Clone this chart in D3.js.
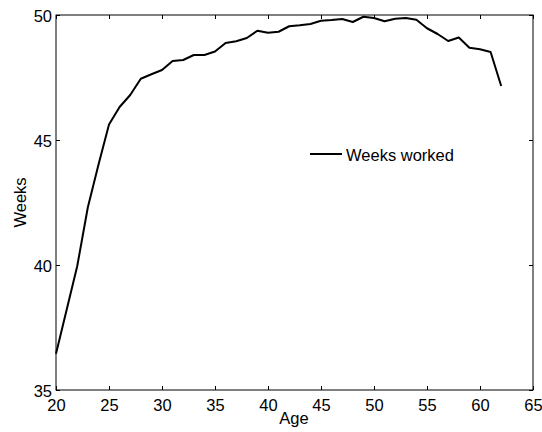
<!DOCTYPE html>
<html><head><meta charset="utf-8">
<script src="https://cdn.jsdelivr.net/npm/d3@7"></script>
<style>body{margin:0;background:#fff}svg{display:block}text{font-family:"Liberation Sans",Arial,sans-serif;fill:#000}</style>
</head><body><svg id="c" width="542" height="432"></svg>
<script>
const ages = [20,21,22,23,24,25,26,27,28,29,30,31,32,33,34,35,36,37,38,39,40,41,42,43,44,45,46,47,48,49,50,51,52,53,54,55,56,57,58,59,60,61,62];
const weeks = [36.45,38.2,39.95,42.3,44.0,45.62,46.32,46.8,47.45,47.63,47.8,48.16,48.2,48.4,48.4,48.54,48.88,48.95,49.08,49.37,49.29,49.33,49.55,49.59,49.64,49.77,49.8,49.84,49.72,49.93,49.88,49.75,49.85,49.88,49.81,49.47,49.24,48.96,49.1,48.69,48.63,48.52,47.16];
const xTicks = [20,25,30,35,40,45,50,55,60,65];
const yTicks = [35,40,45,50];
const seriesName = "Weeks worked";

const svg = d3.select("#c");
const L=56,R=533,T=15,B=390;
const x = d3.scaleLinear().domain([20,65]).range([L,R]);
const y = d3.scaleLinear().domain([35,50]).range([B,T]);

svg.append("rect").attr("x",L).attr("y",T).attr("width",R-L).attr("height",B-T)
  .attr("fill","none").attr("stroke","#000").attr("stroke-width",1);

const fs = 16.5;
svg.append("g").attr("transform",`translate(0,${B})`)
  .call(d3.axisBottom(x).tickValues(xTicks).tickSize(-4).tickPadding(9).tickFormat(d3.format("d")));
svg.append("g").attr("transform",`translate(0,${T})`)
  .call(d3.axisTop(x).tickValues(xTicks).tickSize(-4).tickFormat(""));
const gy = svg.append("g").attr("transform",`translate(${L},0)`)
  .call(d3.axisLeft(y).tickValues(yTicks).tickSize(-4).tickPadding(4).tickFormat(d3.format("d")));
svg.append("g").attr("transform",`translate(${R},0)`)
  .call(d3.axisRight(y).tickValues(yTicks).tickSize(-4).tickFormat(""));
svg.selectAll(".domain").remove();
svg.selectAll(".tick line").attr("stroke","#000");
svg.selectAll(".tick text").attr("font-size",fs).attr("font-family","Liberation Sans, Arial, sans-serif").attr("fill","#000");
gy.selectAll(".tick text").attr("dy","0.42em");

svg.append("path").datum(ages.map((a,i)=>[a,weeks[i]]))
  .attr("fill","none").attr("stroke","#000").attr("stroke-width",2).attr("stroke-linejoin","round")
  .attr("d",d3.line().x(d=>x(d[0])).y(d=>y(d[1])));

svg.append("text").attr("x",294).attr("y",424).attr("text-anchor","middle").attr("font-size",fs).text("Age");
svg.append("text").attr("transform",`translate(26,${(T+B)/2}) rotate(-90)`).attr("text-anchor","middle").attr("font-size",fs).text("Weeks");

svg.append("line").attr("x1",310).attr("x2",342).attr("y1",154).attr("y2",154).attr("stroke","#000").attr("stroke-width",2);
svg.append("text").attr("x",346).attr("y",160.5).attr("font-size",fs).text(seriesName);
</script></body></html>
